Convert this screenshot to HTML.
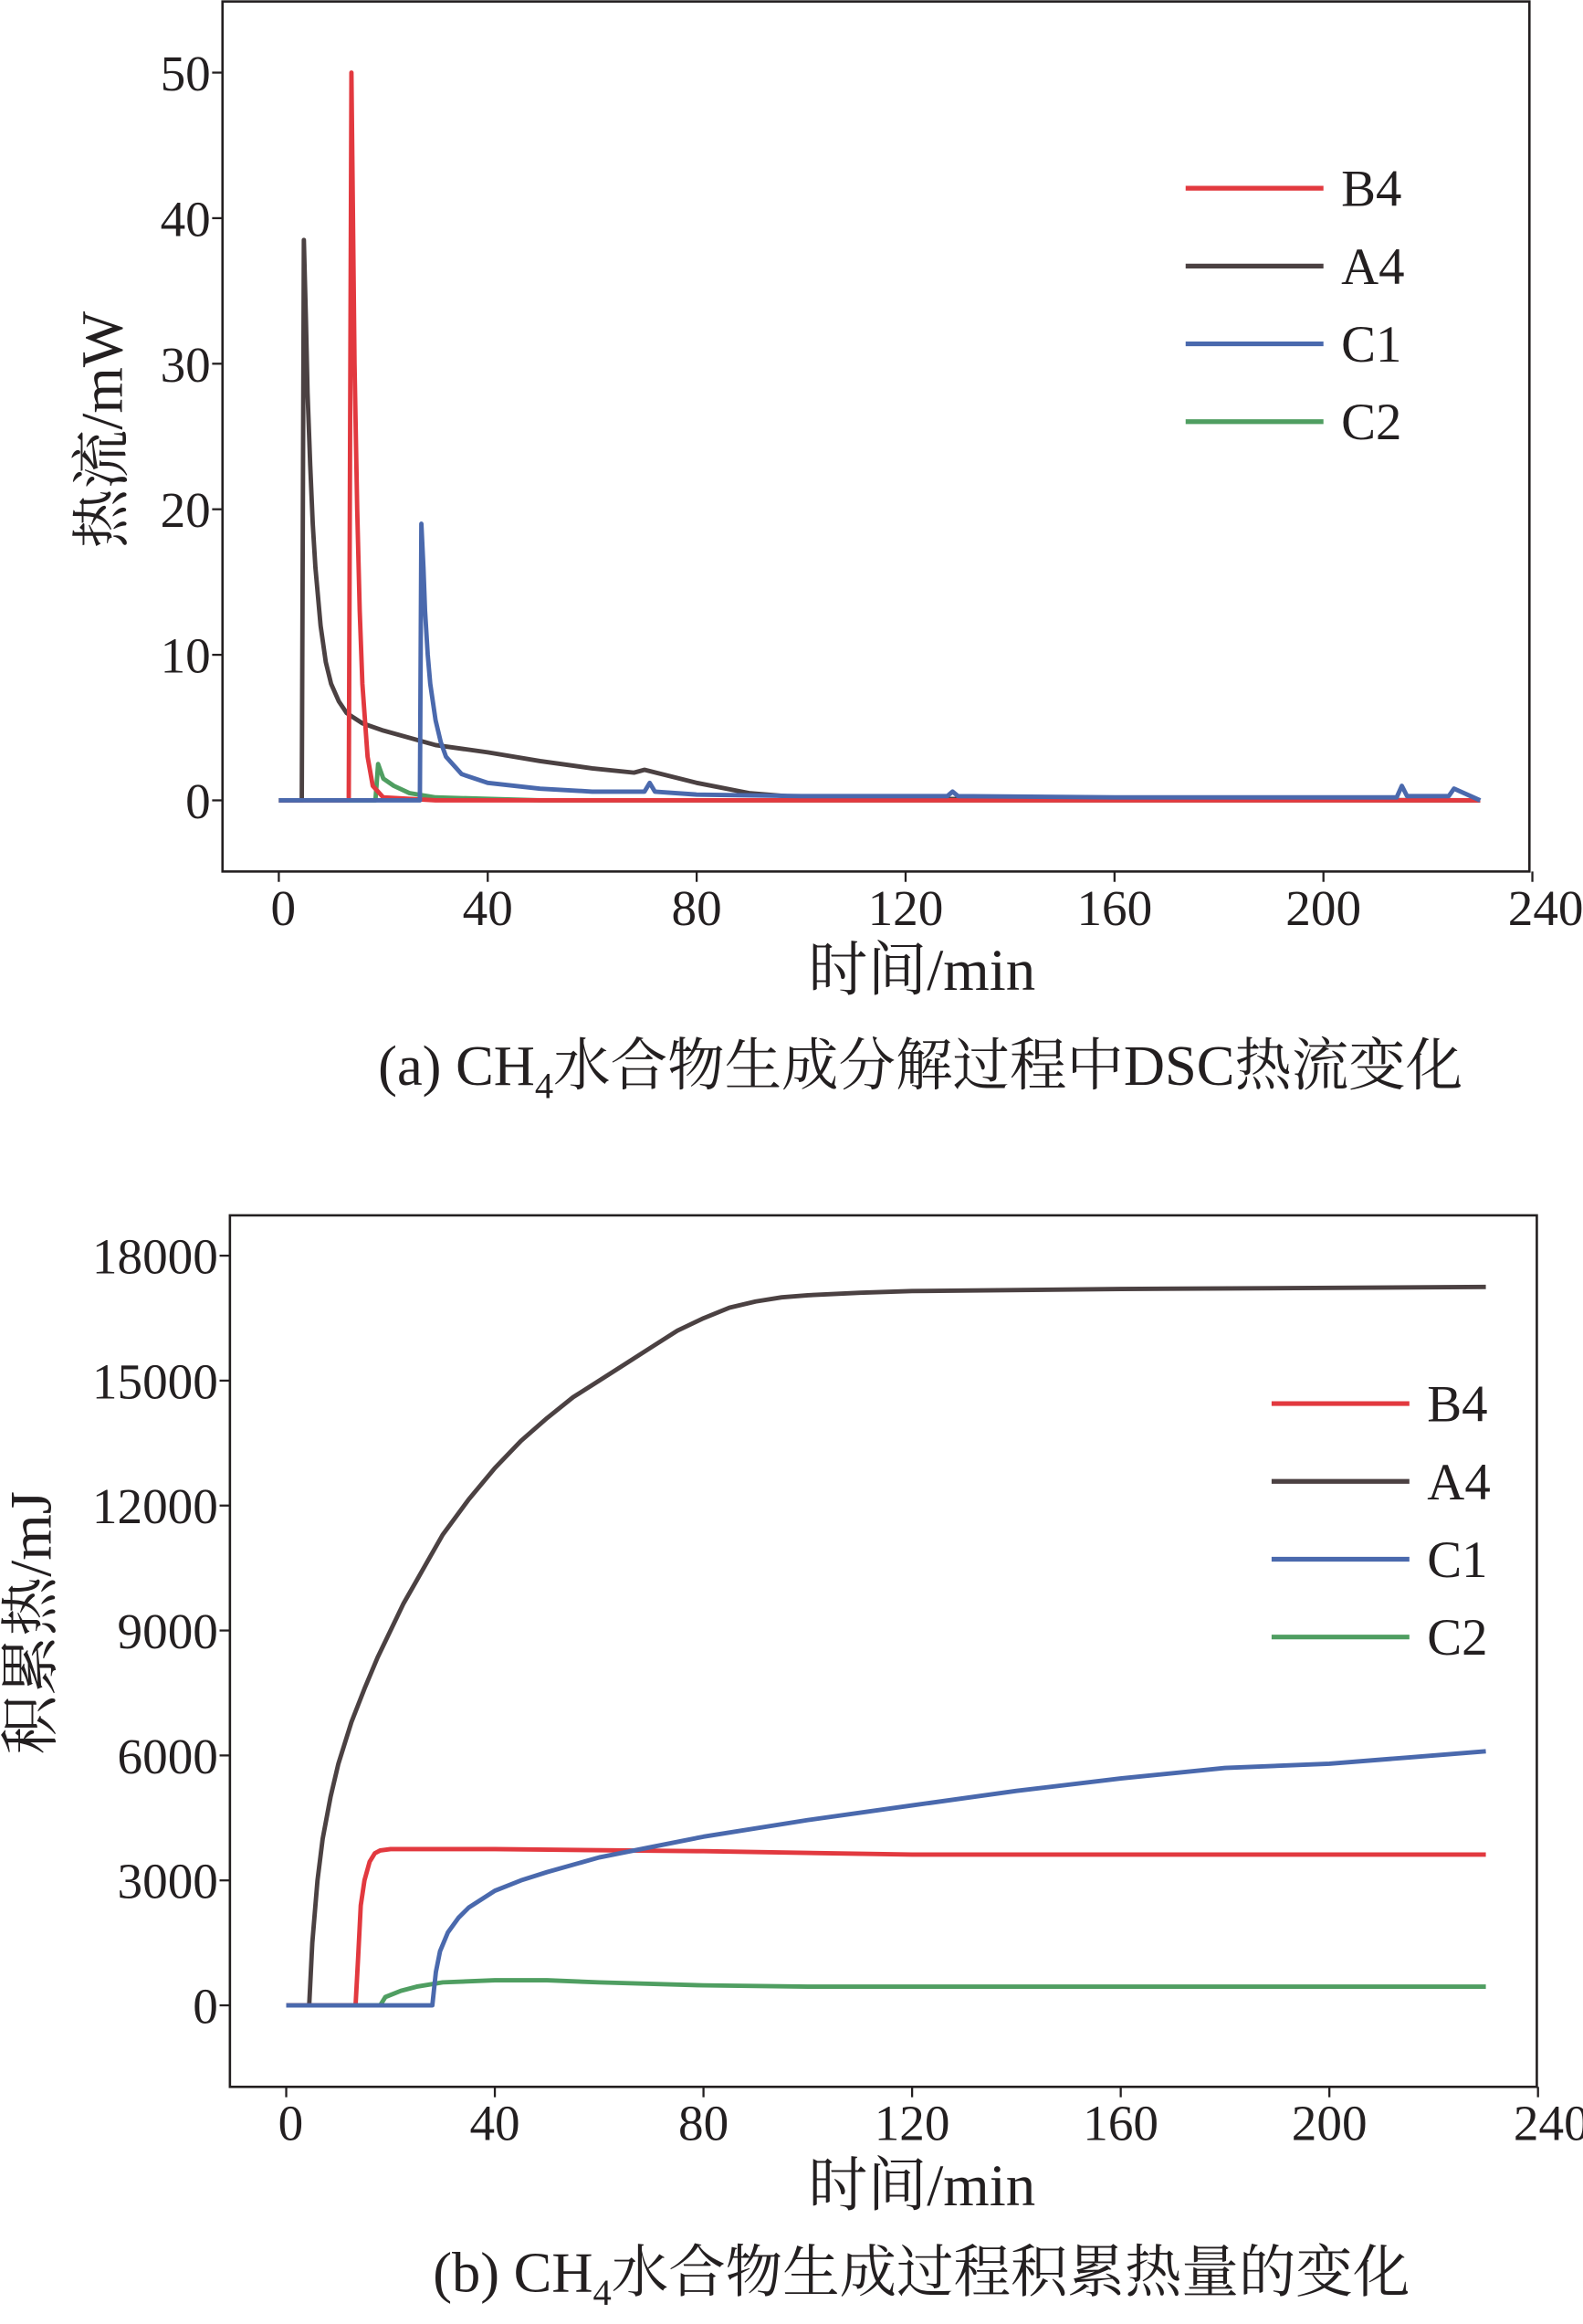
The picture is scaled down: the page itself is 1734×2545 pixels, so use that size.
<!DOCTYPE html>
<html><head><meta charset="utf-8"><style>
body{margin:0;background:#fff}
svg{display:block}
text{font-family:"Liberation Serif","Noto Serif CJK SC",serif;fill:#231f20}
</style></head><body>
<svg id="s" width="1734" height="2545" viewBox="0 0 1068 1568" xmlns="http://www.w3.org/2000/svg"></svg>
<script>
const xTicks=[0,40,80,120,160,200,240];
const aYTicks=[0,10,20,30,40,50];
const bYTicks=[0,3000,6000,9000,12000,15000,18000];
const names=["B4","A4","C1","C2"];
const colors=["#e2393f","#4b4142","#4a69ad","#4f9e61"];
const aB4=[[0,0],[13,0],[13.4,0],[13.9,50],[14.5,30],[15,20],[15.5,13],[16,8],[17,3],[18,1],[20,0.2],[30,0],[230,0]];
const aA4=[[0,0],[4.4,0],[4.8,38.5],[5.2,33],[5.5,28],[6,23],[6.5,19],[7,16],[8,12],[9,9.5],[10,8],[11.5,6.8],[13,6],[16,5.3],[20,4.8],[30,3.8],[40,3.3],[50,2.7],[60,2.2],[68,1.9],[70,2.1],[80,1.2],[90,0.5],[100,0.2],[120,0.1],[230,0]];
const aC1=[[0,0],[27,0],[27.3,19],[27.7,16],[28,13],[28.5,10],[29,8],[30,5.5],[31,4],[32,3],[35,1.8],[40,1.2],[50,0.8],[60,0.6],[70,0.6],[71,1.2],[72,0.6],[80,0.4],[100,0.3],[128,0.3],[129,0.6],[130,0.3],[160,0.2],[214,0.2],[215,1],[216,0.3],[224,0.3],[225,0.8],[230,0]];
const aC2=[[0,0],[18.5,0],[19,2.5],[20,1.5],[22,1],[25,0.5],[30,0.2],[50,0],[230,0]];
const bB4=[[0,0],[13.3,0],[13.8,1200],[14.3,2400],[15,3000],[16,3450],[17,3650],[18,3720],[20,3750],[40,3750],[80,3700],[120,3620],[230,3620]];
const bA4=[[0,0],[4.4,0],[5,1500],[6,3000],[7,4000],[8.5,5000],[10,5800],[12.5,6800],[15,7600],[17.5,8350],[20,9000],[22.5,9650],[25,10200],[27.5,10750],[30,11300],[35,12150],[40,12900],[45,13550],[50,14100],[55,14600],[60,15000],[65,15400],[70,15800],[75,16200],[80,16500],[85,16750],[90,16900],[95,17000],[100,17050],[110,17110],[120,17150],[160,17200],[230,17250]];
const bC1=[[0,0],[28,0],[28.7,800],[29.5,1300],[31,1750],[33,2100],[35,2350],[40,2750],[45,3000],[50,3200],[60,3550],[70,3800],[80,4050],[100,4450],[120,4800],[140,5150],[160,5450],[180,5700],[200,5800],[215,5950],[230,6100]];
const bC2=[[0,0],[18,0],[19,200],[22,350],[25,450],[30,550],[40,600],[50,600],[60,550],[80,480],[100,450],[230,450]];

const S=document.getElementById('s');
const NS="http://www.w3.org/2000/svg";
function el(t,a,p){const e=document.createElementNS(NS,t);for(const k in a)e.setAttribute(k,a[k]);(p||S).appendChild(e);return e;}
function txt(x,y,s,size,anchor,name,p){const e=el('text',{x:x,y:y,'font-size':size,'text-anchor':anchor||'middle'},p);e.textContent=s;


return e;}

function chart(cfg){
  const g=el('g',{});
  
  
  const X=t=>cfg.x0+t*cfg.xs, Y=v=>cfg.y0-v*cfg.ys;
  const fr=el('rect',{x:cfg.L,y:cfg.T,width:cfg.R-cfg.L,height:cfg.B-cfg.T,fill:'none',stroke:'#231f20','stroke-width':1.6},g);
  
  
  xTicks.forEach(t=>{el('line',{x1:X(t),x2:X(t),y1:cfg.B,y2:cfg.B+7,stroke:'#231f20','stroke-width':1.4},g);
    txt(X(t)+(t==240?9:t==0?3:0),cfg.B+36,String(t),34,'middle','x-tick-label',g);});
  cfg.yt.forEach(v=>{el('line',{x1:cfg.L,x2:cfg.L-7,y1:Y(v),y2:Y(v),stroke:'#231f20','stroke-width':1.4},g);
    txt(cfg.L-8,Y(v)+12,String(v),34,'end','y-tick-label',g);});
  txt(cfg.xtx,cfg.B+80,'时间/min',40,'middle','x-axis-title',g);
  const yl=txt(0,0,cfg.ylab,40,'middle','y-axis-title',g);
  yl.setAttribute('transform',`translate(${cfg.ylx},${cfg.yly}) rotate(-90)`);
  const order=[3,1,0,2];
  order.forEach(i=>{const d=cfg.series[i];
    const p=el('polyline',{points:d.map(q=>X(q[0]).toFixed(1)+','+Y(q[1]).toFixed(1)).join(' '),fill:'none',stroke:colors[i],'stroke-width':3,'stroke-linejoin':'round'},g);
    
    });
  names.forEach((n,i)=>{const y=cfg.legY+i*52.5;
    const l=el('line',{x1:cfg.legX,x2:cfg.legX+93,y1:y,y2:y,stroke:colors[i],'stroke-width':3.2},g);
    
    
    txt(cfg.legX+105,y+12,n,35,'start','legend-label',g);});
  const c=txt(cfg.capX,cfg.capY,'',38.5,'start','caption',g);
  c.innerHTML=cfg.cap;
}
chart({name:'chart-a-heat-flow',L:150,R:1032,T:1,B:588,x0:188,xs:3.525,y0:540,ys:9.82,yt:aYTicks,
  series:[aB4,aA4,aC1,aC2],ylab:'热流/mW',ylx:82,yly:290,xtx:622,legX:800,legY:127,capX:255,capY:732,
  cap:'(a) CH<tspan font-size="25" dy="9">4</tspan><tspan dy="-9">水合物生成分解过程中DSC热流变化</tspan>'});
chart({name:'chart-b-cumulative-heat',L:155,R:1037,T:820,B:1408,x0:193,xs:3.52,y0:1353,ys:84.3/3000,yt:bYTicks,
  series:[bB4,bA4,bC1,bC2],ylab:'积累热/mJ',ylx:34,yly:1095,xtx:622,legX:858,legY:947,capX:292,capY:1546,
  cap:'(b) CH<tspan font-size="25" dy="9">4</tspan><tspan dy="-9">水合物生成过程积累热量的变化</tspan>'});
</script>
</body></html>
